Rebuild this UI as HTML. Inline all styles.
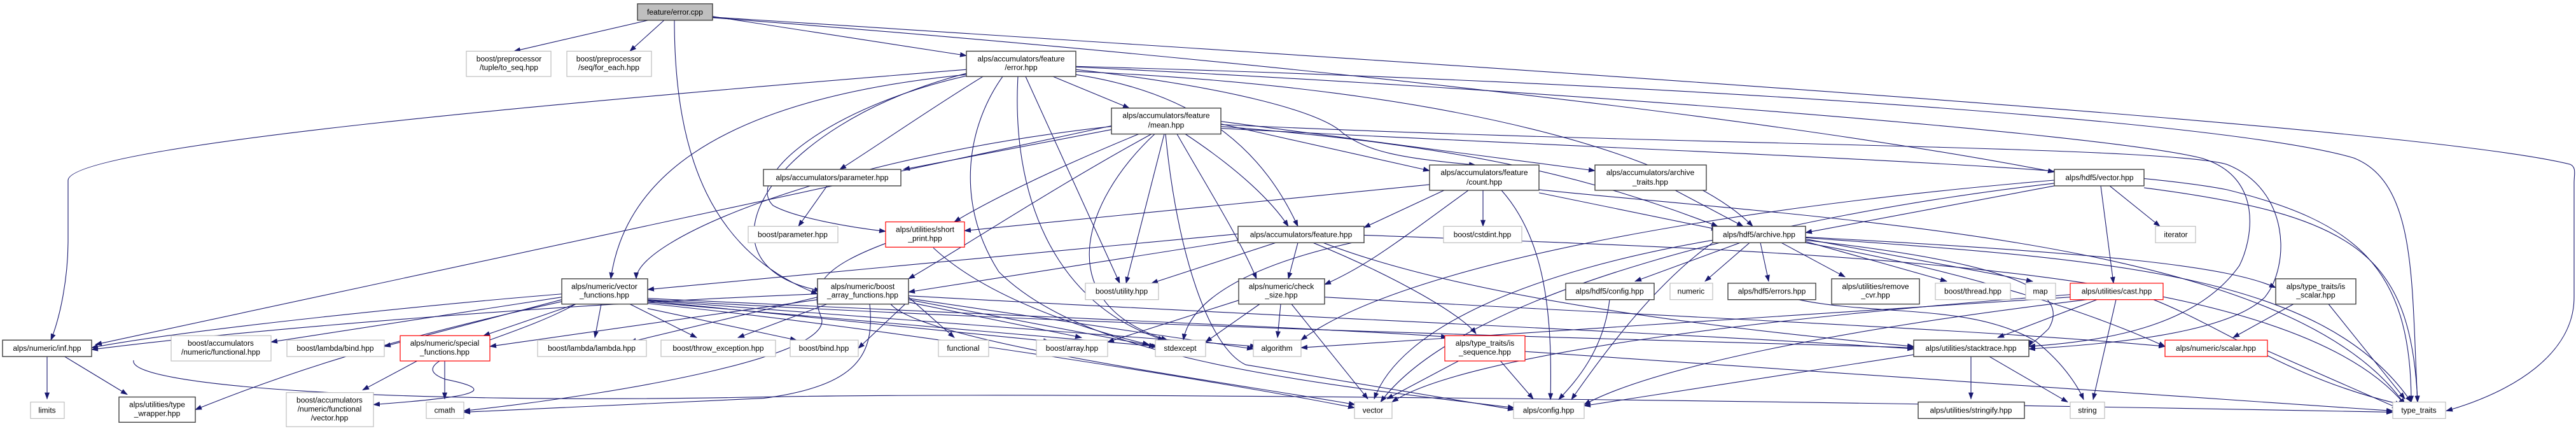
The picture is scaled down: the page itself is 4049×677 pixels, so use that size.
<!DOCTYPE html>
<html><head><meta charset="utf-8"><style>
html,body{margin:0;padding:0;background:#fff;}
svg{display:block;}
text{font-family:"Liberation Sans",sans-serif;font-size:12px;fill:#000;text-anchor:middle;}
.e{fill:none;stroke:#191970;stroke-width:1.1;marker-end:url(#a);}
.k{fill:#fff;stroke:#404040;stroke-width:1.4;}
.g{fill:#fff;stroke:#bfbfbf;stroke-width:1.2;}
.r{fill:#fff;stroke:#ff0000;stroke-width:1.2;}
</style></head><body>
<svg width="4049" height="677" viewBox="0 0 4049 677" xmlns="http://www.w3.org/2000/svg">
<defs><marker id="a" markerWidth="11" markerHeight="8" refX="10" refY="4" orient="auto" markerUnits="userSpaceOnUse"><path d="M0,0 L11,4 L0,8z" fill="#191970"/></marker></defs>
<g transform="scale(1,0.993)">
<!-- edges -->
<g>
<path class="e" d="M1023,31 L808,81"/>
<path class="e" d="M1045,31 L990,81"/>
<path class="e" d="M1120,26 L1519,88"/>
<path class="e" d="M1060,31 C1060,250 1120,400 1285,465"/>
<path class="e" d="M1120,28 C1800,80 2700,170 3229,272"/>
<path class="e" d="M1120,27 C2400,110 3800,200 4040,260 C4050,265 4046,275 4046,290 L4046,470 C4046,560 3950,620 3845,650"/>

<path class="e" d="M1519,110 C900,160 110,230 107,285 L107,380 C107,440 95,500 80,538"/>
<path class="e" d="M1519,118 C1100,160 980,300 960,441"/>
<path class="e" d="M1545,121 C1450,180 1380,230 1320,268"/>
<path class="e" d="M1519,120 C1300,170 1170,280 1215,325 C1250,345 1340,360 1392,366"/>
<path class="e" d="M1519,116 C1200,200 1080,420 1290,460"/>
<path class="e" d="M1655,121 L1775,171"/>
<path class="e" d="M1612,121 L1760,448"/>
<path class="e" d="M1600,121 C1590,300 1650,480 1830,538"/>
<path class="e" d="M1576,121 C1520,200 1500,320 1570,430 C1700,560 2000,600 2380,645"/>
<path class="e" d="M1691,118 C1900,150 1990,250 2040,358"/>
<path class="e" d="M1691,110 C1950,140 2080,180 2110,210 C2150,240 2200,250 2319,261"/>
<path class="e" d="M1691,113 C2300,140 2650,250 2755,358"/>
<path class="e" d="M1691,106 C2400,140 3300,210 3460,250 C3560,280 3540,380 3520,420 C3450,520 3300,540 3189,548"/>
<path class="e" d="M1691,105 C2600,130 3500,190 3700,250 C3800,290 3790,450 3800,636"/>

<path class="e" d="M1747,199 L150,545"/>
<path class="e" d="M1747,205 L1420,268"/>
<path class="e" d="M1790,212 C1650,270 1550,320 1500,351"/>
<path class="e" d="M1747,200 C1300,250 1000,380 1000,441"/>
<path class="e" d="M1810,212 C1650,300 1500,400 1428,441"/>
<path class="e" d="M1830,212 L1770,448"/>
<path class="e" d="M1815,212 C1700,320 1650,480 1835,538"/>
<path class="e" d="M1850,212 C1900,300 1950,380 1975,441"/>
<path class="e" d="M1863,212 C1950,270 2000,320 2025,358"/>
<path class="e" d="M1919,196 L2247,270"/>
<path class="e" d="M1919,192 L2507,270"/>
<path class="e" d="M1919,200 C2300,230 2500,280 2700,358"/>
<path class="e" d="M1832,212 C1850,400 1900,550 1958,577 L2380,648"/>
<path class="e" d="M1919,197 C2600,230 3400,230 3500,260 C3600,300 3600,420 3560,470 C3500,530 3300,545 3189,552"/>
<path class="e" d="M1919,203 C2600,240 3300,260 3500,300 C3700,350 3790,420 3790,636"/>

<path class="e" d="M1300,294 L1255,358"/>
<path class="e" d="M2247,292 L1516,365"/>
<path class="e" d="M2270,301 L2144,360"/>
<path class="e" d="M2331,301 L2331,358"/>
<path class="e" d="M2360,301 C2430,380 2440,500 2437,632"/>
<path class="e" d="M2419,305 L2700,363"/>
<path class="e" d="M2308,301 C2200,380 2150,420 2082,450"/>
<path class="e" d="M2419,300 C2900,350 3600,380 3780,640"/>
<path class="e" d="M2633,301 L2740,358"/>

<path class="e" d="M3229,294 L2838,368"/>
<path class="e" d="M3316,294 L3395,358"/>
<path class="e" d="M3302,294 L3322,448"/>
<path class="e" d="M3370,297 C3700,340 3790,400 3800,636"/>
<path class="e" d="M3229,285 C2700,330 2200,420 2045,538"/>
<path class="e" d="M3229,290 C2800,340 2300,460 2170,636"/>

<path class="e" d="M1467,392 C1550,470 1700,520 1806,545"/>
<path class="e" d="M1392,385 C1300,420 1270,450 1290,500 C1320,560 1000,620 729,650"/>

<path class="e" d="M1946,370 L1018,458"/>
<path class="e" d="M1946,380 L1428,462"/>
<path class="e" d="M2005,384 L1810,448"/>
<path class="e" d="M2040,384 L2025,441"/>
<path class="e" d="M2144,380 C1950,420 1870,480 1860,538"/>
<path class="e" d="M2064,384 C2200,440 2300,500 2320,528"/>
<path class="e" d="M2144,372 C2900,400 3600,420 3780,640"/>
<path class="e" d="M2080,384 C2300,470 2700,520 3008,548"/>

<path class="e" d="M2735,384 L2570,445"/>
<path class="e" d="M2750,384 L2680,445"/>
<path class="e" d="M2767,384 L2780,445"/>
<path class="e" d="M2800,384 L2900,438"/>
<path class="e" d="M2838,382 L3060,445"/>
<path class="e" d="M2838,378 L3195,445"/>
<path class="e" d="M2692,380 C2400,430 2200,520 2160,631"/>
<path class="e" d="M2838,375 C3300,400 3500,420 3577,455"/>
<path class="e" d="M2838,376 C3300,410 3650,430 3790,636"/>
<path class="e" d="M2838,380 C3200,420 3250,470 3220,520 C3200,540 3190,545 3189,548"/>
<path class="e" d="M2838,384 C3100,430 3300,500 3403,548"/>
<path class="e" d="M2692,384 C2600,450 2520,560 2470,632"/>

<path class="e" d="M883,465 C700,480 300,520 144,550"/>
<path class="e" d="M883,470 L426,541"/>
<path class="e" d="M883,474 L604,548"/>
<path class="e" d="M905,481 L760,531"/>
<path class="e" d="M945,481 L935,534"/>
<path class="e" d="M990,481 L1095,534"/>
<path class="e" d="M1018,488 L1252,538"/>
<path class="e" d="M905,481 C800,540 620,570 700,600 C800,620 720,630 587,640"/>
<path class="e" d="M1018,476 L1650,540"/>
<path class="e" d="M1018,478 L1820,548"/>
<path class="e" d="M1018,475 L1975,548"/>
<path class="e" d="M883,477 C600,540 450,590 307,648"/>
<path class="e" d="M1018,480 C1400,520 1900,600 2129,645"/>
<path class="e" d="M1018,474 C1800,520 2700,540 3008,550"/>
<path class="e" d="M1018,472 C1600,500 2100,520 2275,533"/>

<path class="e" d="M1285,465 C900,480 400,520 144,553"/>
<path class="e" d="M1428,470 L1500,534"/>
<path class="e" d="M1285,470 L990,541"/>
<path class="e" d="M1300,481 L1160,534"/>
<path class="e" d="M1428,476 L1349,551"/>
<path class="e" d="M1285,474 L770,548"/>
<path class="e" d="M1367,481 C1375,560 1350,610 1200,630 L729,652"/>
<path class="e" d="M1428,478 L1700,534"/>
<path class="e" d="M1428,474 L1816,548"/>
<path class="e" d="M1428,472 L1970,552"/>
<path class="e" d="M1428,468 C2000,500 2700,530 3008,552"/>
<path class="e" d="M1400,481 C1450,540 1900,600 2130,640"/>

<path class="e" d="M1947,475 L1741,541"/>
<path class="e" d="M1980,481 L1895,541"/>
<path class="e" d="M2013,481 L2008,534"/>
<path class="e" d="M2030,481 L2150,631"/>
<path class="e" d="M2082,470 C2600,500 3100,520 3403,548"/>

<path class="e" d="M2300,567 L2180,631"/>
<path class="e" d="M2355,567 L2410,631"/>
<path class="e" d="M2397,556 L3761,650"/>
<path class="e" d="M2530,474 C2520,560 2470,610 2450,632"/>
<path class="e" d="M2827,474 C2950,500 3100,480 3200,540 C3250,580 3270,620 3275,632"/>
<path class="e" d="M3296,474 L3140,534"/>
<path class="e" d="M3326,474 L3290,632"/>
<path class="e" d="M3385,474 C3500,520 3600,600 3775,640"/>
<path class="e" d="M3280,474 C2900,520 2600,580 2490,640"/>
<path class="e" d="M3254,466 C2800,500 2300,560 2188,636"/>
<path class="e" d="M3254,470 L2045,550"/>
<path class="e" d="M3098,560 L3098,631"/>
<path class="e" d="M3120,560 L3250,636"/>
<path class="e" d="M3015,560 L2490,642"/>
<path class="e" d="M3605,481 L3510,534"/>
<path class="e" d="M3660,481 L3780,631"/>
<path class="e" d="M3564,555 L3770,646"/>
<path class="e" d="M74,560 L74,631"/>
<path class="e" d="M95,560 L200,624"/>
<path class="e" d="M663,567 L570,617"/>
<path class="e" d="M699,567 L699,631"/>
<path class="e" d="M210,570 C200,610 600,640 1200,628 C1600,620 2600,630 3761,652"/>
</g>
<!-- nodes -->
<rect x="1002" y="6" width="118" height="26" fill="#bfbfbf" stroke="#404040" stroke-width="1.4"/><text x="1061" y="23">feature/error.cpp</text>
<rect class="g" x="733" y="81" width="133" height="40"/><text x="800" y="97">boost/preprocessor</text><text x="800" y="111">/tuple/to_seq.hpp</text>
<rect class="g" x="891" y="81" width="133" height="40"/><text x="957" y="97">boost/preprocessor</text><text x="957" y="111">/seq/for_each.hpp</text>
<rect class="k" x="1519" y="81" width="172" height="40"/><text x="1605" y="97">alps/accumulators/feature</text><text x="1605" y="111">/error.hpp</text>
<rect class="k" x="1747" y="171" width="172" height="41"/><text x="1833" y="187">alps/accumulators/feature</text><text x="1833" y="202">/mean.hpp</text>
<rect class="k" x="1200" y="268" width="216" height="26"/><text x="1308" y="285">alps/accumulators/parameter.hpp</text>
<rect class="k" x="2247" y="261" width="172" height="40"/><text x="2333" y="277">alps/accumulators/feature</text><text x="2333" y="292">/count.hpp</text>
<rect class="k" x="2507" y="261" width="175" height="40"/><text x="2594" y="277">alps/accumulators/archive</text><text x="2594" y="292">_traits.hpp</text>
<rect class="k" x="3229" y="268" width="141" height="26"/><text x="3300" y="285">alps/hdf5/vector.hpp</text>
<rect class="r" x="1392" y="351" width="124" height="40"/><text x="1454" y="367">alps/utilities/short</text><text x="1454" y="381">_print.hpp</text>
<rect class="g" x="1176" y="358" width="141" height="26"/><text x="1246" y="375">boost/parameter.hpp</text>
<rect class="k" x="1946" y="358" width="198" height="26"/><text x="2045" y="375">alps/accumulators/feature.hpp</text>
<rect class="g" x="2269" y="358" width="123" height="26"/><text x="2330" y="375">boost/cstdint.hpp</text>
<rect class="k" x="2692" y="358" width="146" height="26"/><text x="2765" y="375">alps/hdf5/archive.hpp</text>
<rect class="g" x="3388" y="358" width="63" height="26"/><text x="3420" y="375">iterator</text>
<rect class="k" x="883" y="441" width="135" height="40"/><text x="950" y="457">alps/numeric/vector</text><text x="950" y="471">_functions.hpp</text>
<rect class="k" x="1285" y="441" width="143" height="40"/><text x="1356" y="457">alps/numeric/boost</text><text x="1356" y="471">_array_functions.hpp</text>
<rect class="g" x="1706" y="448" width="115" height="26"/><text x="1763" y="465">boost/utility.hpp</text>
<rect class="k" x="1947" y="441" width="135" height="40"/><text x="2014" y="457">alps/numeric/check</text><text x="2014" y="471">_size.hpp</text>
<rect class="k" x="2461" y="448" width="139" height="26"/><text x="2530" y="465">alps/hdf5/config.hpp</text>
<rect class="g" x="2625" y="448" width="67" height="26"/><text x="2658" y="465">numeric</text>
<rect class="k" x="2716" y="448" width="138" height="26"/><text x="2785" y="465">alps/hdf5/errors.hpp</text>
<rect class="k" x="2879" y="441" width="138" height="40"/><text x="2948" y="457">alps/utilities/remove</text><text x="2948" y="471">_cvr.hpp</text>
<rect class="g" x="3042" y="448" width="118" height="26"/><text x="3101" y="465">boost/thread.hpp</text>
<rect class="g" x="3184" y="448" width="47" height="26"/><text x="3207" y="465">map</text>
<rect class="r" x="3254" y="448" width="146" height="26"/><text x="3327" y="465">alps/utilities/cast.hpp</text>
<rect class="k" x="3577" y="441" width="126" height="40"/><text x="3640" y="457">alps/type_traits/is</text><text x="3640" y="471">_scalar.hpp</text>
<rect class="k" x="4" y="538" width="140" height="26"/><text x="74" y="555">alps/numeric/inf.hpp</text>
<rect class="g" x="269" y="531" width="157" height="40"/><text x="347" y="547">boost/accumulators</text><text x="347" y="561">/numeric/functional.hpp</text>
<rect class="g" x="451" y="538" width="153" height="26"/><text x="527" y="555">boost/lambda/bind.hpp</text>
<rect class="r" x="629" y="531" width="141" height="40"/><text x="699" y="547">alps/numeric/special</text><text x="699" y="561">_functions.hpp</text>
<rect class="g" x="845" y="538" width="171" height="26"/><text x="930" y="555">boost/lambda/lambda.hpp</text>
<rect class="g" x="1039" y="538" width="180" height="26"/><text x="1129" y="555">boost/throw_exception.hpp</text>
<rect class="g" x="1242" y="538" width="107" height="26"/><text x="1295" y="555">boost/bind.hpp</text>
<rect class="g" x="1475" y="538" width="79" height="26"/><text x="1514" y="555">functional</text>
<rect class="g" x="1629" y="538" width="112" height="26"/><text x="1685" y="555">boost/array.hpp</text>
<rect class="g" x="1816" y="538" width="79" height="26"/><text x="1855" y="555">stdexcept</text>
<rect class="g" x="1970" y="538" width="75" height="26"/><text x="2007" y="555">algorithm</text>
<rect class="r" x="2271" y="531" width="126" height="40"/><text x="2334" y="547">alps/type_traits/is</text><text x="2334" y="561">_sequence.hpp</text>
<rect class="k" x="3008" y="538" width="181" height="26"/><text x="3098" y="555">alps/utilities/stacktrace.hpp</text>
<rect class="r" x="3403" y="538" width="161" height="26"/><text x="3483" y="555">alps/numeric/scalar.hpp</text>
<rect class="g" x="48" y="636" width="53" height="26"/><text x="74" y="653">limits</text>
<rect class="k" x="187" y="628" width="120" height="40"/><text x="247" y="644">alps/utilities/type</text><text x="247" y="658">_wrapper.hpp</text>
<rect class="g" x="450" y="621" width="137" height="54"/><text x="518" y="637">boost/accumulators</text><text x="518" y="651">/numeric/functional</text><text x="518" y="665">/vector.hpp</text>
<rect class="g" x="670" y="636" width="59" height="26"/><text x="699" y="653">cmath</text>
<rect class="g" x="2129" y="636" width="59" height="26"/><text x="2158" y="653">vector</text>
<rect class="g" x="2379" y="636" width="111" height="26"/><text x="2434" y="653">alps/config.hpp</text>
<rect class="k" x="3015" y="636" width="167" height="26"/><text x="3098" y="653">alps/utilities/stringify.hpp</text>
<rect class="g" x="3254" y="636" width="54" height="26"/><text x="3281" y="653">string</text>
<rect class="g" x="3761" y="636" width="83" height="26"/><text x="3802" y="653">type_traits</text>
</g>
</svg>
</body></html>
